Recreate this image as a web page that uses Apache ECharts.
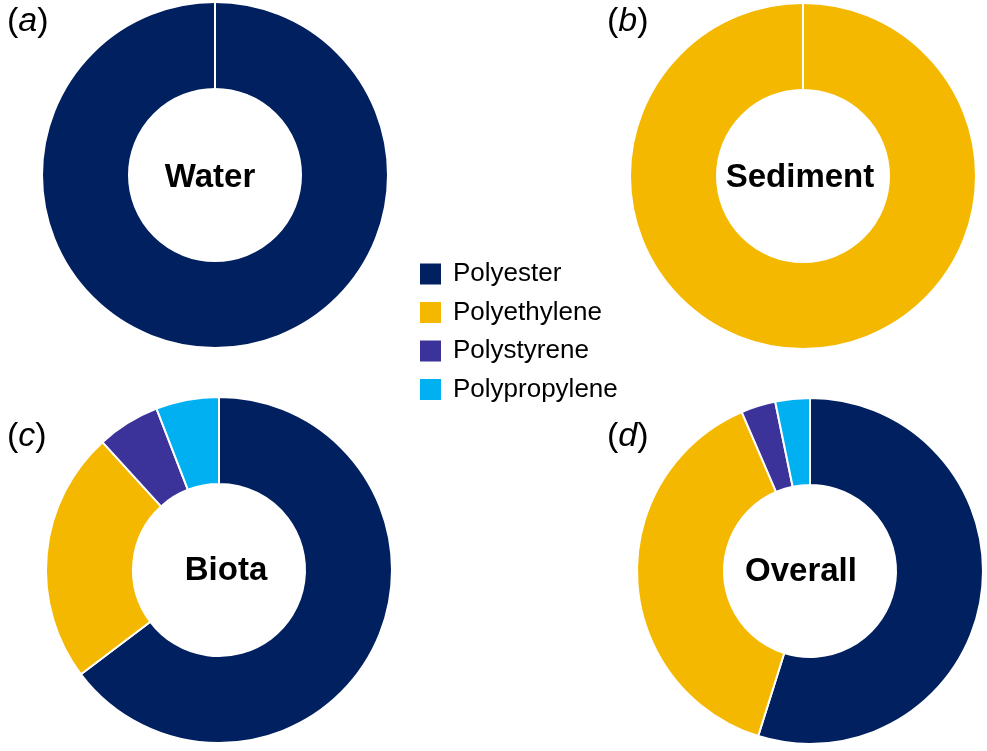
<!DOCTYPE html>
<html>
<head>
<meta charset="utf-8">
<script src="https://cdn.jsdelivr.net/npm/echarts@6/dist/echarts.min.js"></script>
<style>
html,body{margin:0;padding:0;background:#fff;}
#chart{width:987px;height:751px;}
</style>
</head>
<body>
<div id="chart"></div>
<script>
// ---- data ----
const categories = ['Polyester', 'Polyethylene', 'Polystyrene', 'Polypropylene'];
const water    = [6, 0, 0, 0];
const sediment = [0, 8, 0, 0];
const biota    = [11, 4, 1, 1];
const overall  = [17, 12, 1, 1];
const panelNames  = ['Water', 'Sediment', 'Biota', 'Overall'];
const panelLetters = ['a', 'b', 'c', 'd'];

// ---- layout / style ----
const colors = ['#002060', '#F5B800', '#3B3399', '#00B0F0'];
const centers = [[215, 175], [803, 176], [219, 570], [810, 571]];
const namePos = [[210, 178], [800, 178], [226, 571], [801, 572]];
const outerR = 173, innerR = 86;
const letterPos = [[7, 5], [607, 5], [7, 420], [607, 420]];
const FONT = 'Liberation Sans, Arial, sans-serif';

const allData = [water, sediment, biota, overall];

const series = allData.map((vals, i) => ({
  type: 'pie',
  name: panelNames[i],
  center: centers[i],
  radius: [innerR, outerR],
  startAngle: 90,
  clockwise: true,
  animation: false,
  silent: true,
  avoidLabelOverlap: false,
  label: { show: false },
  labelLine: { show: false },
  itemStyle: { borderColor: '#ffffff', borderWidth: 2 },
  data: categories.map((c, k) => ({ name: c, value: vals[k] }))
}));

const titles = [];
panelNames.forEach((n, i) => {
  titles.push({
    text: n,
    left: namePos[i][0],
    top: namePos[i][1],
    textAlign: 'center',
    textVerticalAlign: 'middle',
    padding: 0,
    textStyle: { fontFamily: FONT, fontSize: 33, fontWeight: 'bold', color: '#000' }
  });
  titles.push({
    text: '{n|(}{i|' + panelLetters[i] + '}{n|)}',
    left: letterPos[i][0],
    top: letterPos[i][1],
    padding: 0,
    textStyle: {
      fontWeight: 'normal',
      rich: {
        n: { fontFamily: FONT, fontSize: 34, fontWeight: 'normal', color: '#000' },
        i: { fontFamily: FONT, fontSize: 34, fontWeight: 'normal', fontStyle: 'italic', color: '#000' }
      }
    }
  });
});

const chart = echarts.init(document.getElementById('chart'), null, { renderer: 'canvas' });
chart.setOption({
  backgroundColor: '#ffffff',
  color: colors,
  animation: false,
  title: titles,
  legend: {
    data: categories,
    orient: 'vertical',
    left: 418,
    top: 261,
    padding: 0,
    itemWidth: 23,
    itemHeight: 23,
    itemGap: 12.5,
    icon: 'rect',
    selectedMode: false,
    textStyle: { fontFamily: FONT, fontSize: 26, color: '#000', padding: [0, 0, 0, 6] }
  },
  series: series
});
</script>
</body>
</html>
